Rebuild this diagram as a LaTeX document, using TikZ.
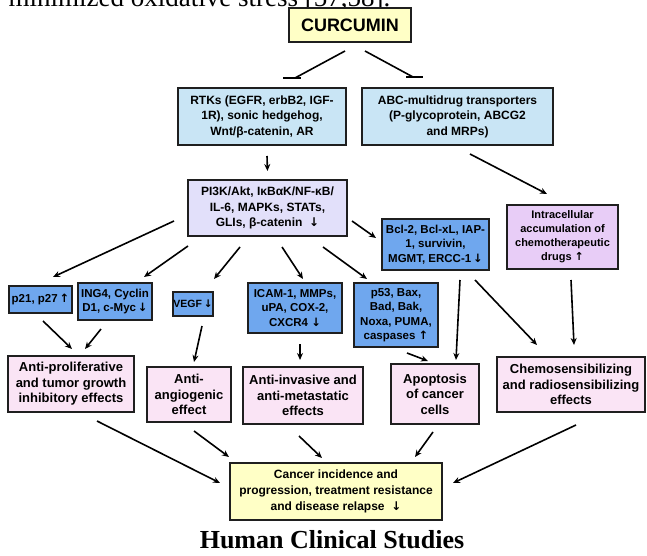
\documentclass[tikz,border=0pt]{standalone}
\usepackage{fontspec}
\setmainfont{Liberation Serif}
\setsansfont{Liberation Sans}
\newfontfamily\arwfont{DejaVu Sans}
\newcommand{\arrdn}{{\arwfont\bfseries ↓}}
\newcommand{\arrup}{{\arwfont\bfseries ↑}}
\usetikzlibrary{arrows.meta, calc}
\definecolor{yelc}{HTML}{FFFFC6}
\definecolor{ltbc}{HTML}{C9E5F5}
\definecolor{lavc}{HTML}{E2E0FA}
\definecolor{bluc}{HTML}{6FA7EE}
\definecolor{purc}{HTML}{E8CDF7}
\definecolor{pnkc}{HTML}{FAE4F5}

\begin{document}
\begin{tikzpicture}[>=Stealth, x=1pt, y=-1pt,
      box/.style={draw=black!88, line width=2pt, inner sep=0pt, align=center,
                  font=\sffamily\bfseries\fontsize{12}{15.5}\selectfont},
      tgt/.style={box, fill=bluc, font=\sffamily\bfseries\fontsize{11.5}{14.5}\selectfont},
      eff/.style={box, fill=pnkc, font=\sffamily\bfseries\fontsize{13}{15.5}\selectfont},
      ar/.style={-{Stealth[length=7pt, width=6pt]}, line width=1.6pt},
      inh/.style={line width=1.6pt}]
    \useasboundingbox (0,0) rectangle (647,556);
    \clip (0,0) rectangle (647,556);
    \fill[white] (0,0) rectangle (647,556);
    \node[anchor=base west, font=\fontsize{27}{30}\selectfont] (prev) at (5,7)
      {minimized oxidative stress [57,58].};
    \node[box, fill=yelc, minimum width=122pt, minimum height=34pt,
          font=\sffamily\bfseries\fontsize{18}{20}\selectfont] (cur) at (350,25) {CURCUMIN};
    \node[box, fill=ltbc, minimum width=168pt, minimum height=57pt] (rtk) at (262,116.5)
      {RTKs (EGFR, erbB2, IGF-\\1R), sonic hedgehog,\\Wnt/β-catenin, AR};
    \node[box, fill=ltbc, minimum width=191pt, minimum height=57pt] (abc) at (457.5,116.5)
      {ABC-multidrug transporters\\(P-glycoprotein, ABCG2\\and MRPs)};
    \node[box, fill=lavc, minimum width=159pt, minimum height=56pt] (pi3k) at (267.5,208)
      {PI3K/Akt, IκBαK/NF-κB/\\IL-6, MAPKs, STATs,\\GLIs, β-catenin\ \ \arrdn};
    \node[tgt, minimum width=107pt, minimum height=51pt] (bcl) at (435.5,244.5)
      {Bcl-2, Bcl-xL, IAP-\\1, survivin,\\MGMT, ERCC-1\,\arrdn};
    \node[box, fill=purc, minimum width=111pt, minimum height=64pt,
          font=\sffamily\bfseries\fontsize{11}{14}\selectfont] (intra) at (562.5,237)
      {Intracellular\\accumulation of\\chemotherapeutic\\drugs \arrup};
    \node[tgt, minimum width=63pt, minimum height=27pt] (p21) at (40.5,299.5) {p21, p27\,\arrup};
    \node[tgt, minimum width=74pt, minimum height=37pt] (ing4) at (115,301.5)
      {ING4, Cyclin\\D1, c-Myc\,\arrdn};
    \node[tgt, minimum width=40pt, minimum height=24pt,
          font=\sffamily\bfseries\fontsize{10.5}{12}\selectfont] (vegf) at (193,304) {VEGF\,\arrdn};
    \node[tgt, minimum width=94pt, minimum height=50pt] (icam) at (295,308)
      {ICAM-1, MMPs,\\uPA, COX-2,\\CXCR4\ \arrdn};
    \node[tgt, minimum width=84pt, minimum height=64pt] (p53) at (396,315)
      {p53, Bax,\\Bad, Bak,\\Noxa, PUMA,\\caspases\ \arrup};
    \node[eff, minimum width=126pt, minimum height=56pt] (aprol) at (71,384)
      {Anti-proliferative\\and tumor growth\\inhibitory effects};
    \node[eff, minimum width=84pt, minimum height=55pt] (aang) at (189,394.5)
      {Anti-\\angiogenic\\effect};
    \node[eff, minimum width=120pt, minimum height=57pt] (ainv) at (303,395.5)
      {Anti-invasive and\\anti-metastatic\\effects};
    \node[eff, minimum width=88pt, minimum height=60pt] (apop) at (435,394)
      {Apoptosis\\of cancer\\cells};
    \node[eff, minimum width=148pt, minimum height=55pt] (chemo) at (571,384.5)
      {Chemosensibilizing\\and radiosensibilizing\\effects};
    \node[box, fill=yelc, minimum width=212pt, minimum height=57pt,
          font=\sffamily\bfseries\fontsize{12}{16}\selectfont] (final) at (336,491.5)
      {Cancer incidence and\\progression, treatment resistance\\and disease relapse\ \ \arrdn};
    \node[anchor=base, font=\bfseries\fontsize{26}{30}\selectfont] (title) at (332,548)
      {Human Clinical Studies};

    \coordinate (tl) at ($(rtk.north)+(33,-9)$);
    \coordinate (tr) at ($(abc.north)+(-44.5,-10)$);
    \draw[inh] ($(cur.south)+(-5,8)$) -- (tl);
    \draw[inh] ($(cur.south)+(15,8)$) -- (tr);
    \draw[inh, line width=2.2pt] ($(tl)+(-12,0)$) -- ($(tl)+(6,0)$);
    \draw[inh, line width=2.2pt] ($(tr)+(-7,0)$) -- ($(tr)+(10,0)$);

    \draw[ar] ($(rtk.south)+(5,10)$) -- ($(pi3k.north)+(0,-8)$);
    \draw[ar] ($(abc.south)+(12.5,8)$) -- ($(intra.north)+(-15.5,-10)$);
    \draw[ar] ($(pi3k.east)+(4,13)$) -- ($(bcl.west)+(-5,-6.5)$);
    \draw[ar] ($(pi3k.west)+(-13,13)$) -- ($(p21.north)+(12.5,-8)$);
    \foreach \n/\a/\b/\c/\d in {ing4/-79.5/9/29/-5, vegf/-27.5/10/21/-12,
        icam/14.5/10/8/-3, p53/55.5/10/-29/-3}{
      \draw[ar] ($(pi3k.south)+(\a,\b)$) -- ($(\n.north)+(\c,\d)$);}
    \draw[ar] ($(bcl.south)+(24.5,9)$) -- ($(apop.north)+(21,-3)$);
    \draw[ar] ($(bcl.south)+(39.5,9)$) -- ($(chemo.north)+(-34,-11)$);
    \draw[ar] ($(intra.south)+(8.5,10)$) -- ($(chemo.north)+(3,-11)$);
    \draw[ar] ($(p53.south)+(11,5)$) -- ($(apop.north)+(-7,-2)$);
    \draw[ar] ($(p21.south)+(2.5,7)$) -- ($(aprol.north)+(1,-6)$);
    \draw[ar] ($(ing4.south)+(-14,8)$) -- ($(aprol.north)+(14,-6)$);
    \draw[ar] ($(vegf.south)+(9,9)$) -- ($(aang.north)+(5,-4)$);
    \draw[ar] ($(icam.south)+(5,10)$) -- ($(ainv.north)+(-3,-6)$);
    \draw[ar] ($(aprol.south)+(26,8)$) -- ($(final.west)+(-9,-8.5)$);
    \foreach \n/\a/\b/\c/\d in {aang/5/8/-107/-5, ainv/-4/11/-14/-4, apop/-2/7/79/-5}{
      \draw[ar] ($(\n.south)+(\a,\b)$) -- ($(final.north)+(\c,\d)$);}
    \draw[ar] ($(chemo.south)+(5,12)$) -- ($(final.east)+(10,-8.5)$);
  \end{tikzpicture}
\end{document}
